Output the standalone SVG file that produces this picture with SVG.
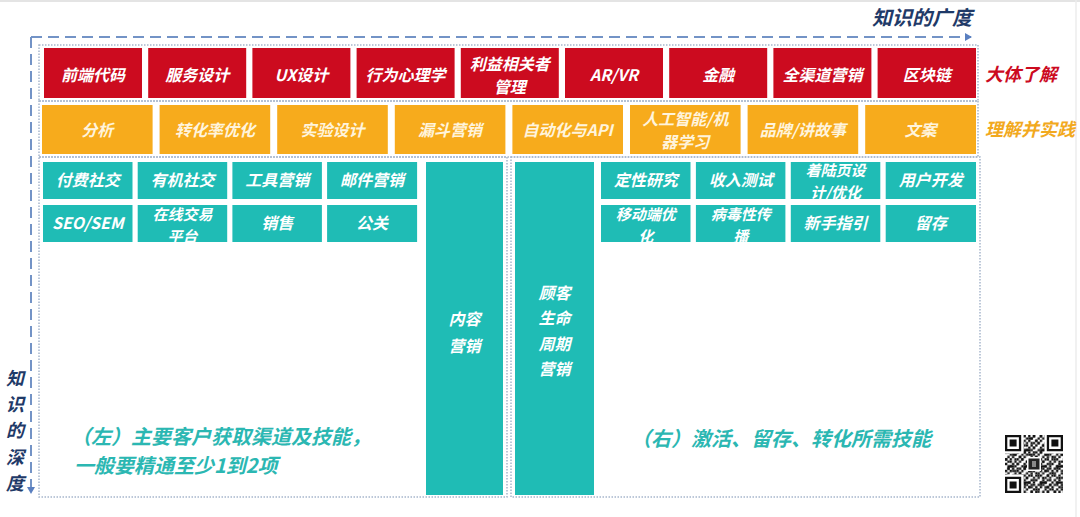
<svg xmlns="http://www.w3.org/2000/svg" width="1080" height="517" viewBox="0 0 1080 517">
<style>
.red{fill:#cc0b1f}
.org{fill:#f7ab1c}
.teal{fill:#1fbcb5}
.bt{font-family:"Noto Sans CJK SC","Noto Sans",sans-serif;font-weight:700;font-style:italic;font-size:16px;fill:#ffffff;text-anchor:middle}
.sm{font-size:15px}
.ot{fill:#fff4dc}
.frame{fill:none;stroke:#a7b6cc;stroke-width:1.5;stroke-dasharray:1.5 1.5}
.axis{fill:none;stroke:#7393c6;stroke-width:2;stroke-dasharray:11 6}
.lbl{font-family:"Noto Sans CJK SC","Noto Sans",sans-serif;font-weight:700;font-style:italic}
.note{font-family:"Noto Sans CJK SC","Noto Sans",sans-serif;font-weight:700;font-style:italic;font-size:20px;fill:#2bb7b2}
</style>
<defs>
<marker id="ah" markerWidth="8" markerHeight="8" refX="6" refY="4" orient="auto" markerUnits="userSpaceOnUse">
<path d="M0,0 L7,4 L0,8 z" fill="#5a7fc0"/>
</marker>
<pattern id="qa" width="11.6" height="11.6" patternUnits="userSpaceOnUse" x="1005" y="435">
<path fill="#111" d="M0 0h2.32v2.32h-2.32z M4.64 0h2.32v2.32h-2.32z M2.32 2.32h2.32v2.32h-2.32z M9.28 2.32h2.32v2.32h-2.32z M0 4.64h2.32v2.32h-2.32z M6.96 4.64h2.32v2.32h-2.32z M4.64 6.96h2.32v2.32h-2.32z M9.28 6.96h2.32v2.32h-2.32z M2.32 9.28h2.32v2.32h-2.32z M6.96 9.28h2.32v2.32h-2.32z"/>
</pattern>
<pattern id="qb" width="16.24" height="16.24" patternUnits="userSpaceOnUse" x="1005" y="435">
<path fill="#111" d="M2.32 0h2.32v2.32h-2.32z M11.6 0h2.32v2.32h-2.32z M6.96 2.32h4.64v2.32h-4.64z M13.92 4.64h2.32v2.32h-2.32z M0 6.96h2.32v2.32h-2.32z M9.28 6.96h2.32v2.32h-2.32z M4.64 9.28h2.32v2.32h-2.32z M11.6 11.6h2.32v2.32h-2.32z M2.32 13.92h4.64v2.32h-4.64z M6.96 13.92h2.32v2.32h-2.32z"/>
</pattern>
</defs>
<rect width="1080" height="517" fill="#ffffff"/>
<line x1="0" y1="1" x2="1080" y2="1" stroke="#e4e4e4" stroke-width="2"/>
<line x1="1076" y1="0" x2="1076" y2="517" stroke="#ececec" stroke-width="1.5"/>

<g id="frames">
<rect class="frame" x="39" y="45" width="939" height="56"/>
<rect class="frame" x="39" y="101" width="939" height="56"/>
<rect class="frame" x="39" y="157" width="468" height="340"/>
<rect class="frame" x="511" y="157" width="469" height="340"/>
</g>

<g id="connectors">
<line class="axis" x1="31" y1="37" x2="971" y2="37" marker-end="url(#ah)"/>
<line class="axis" x1="31" y1="37" x2="31" y2="493" marker-end="url(#ah)"/>
</g>

<g id="axis-labels">
<text class="lbl" x="972" y="25" font-size="20" fill="#1f3a68" text-anchor="end">知识的广度</text>
<text class="lbl" x="15" font-size="18" fill="#1f3a68" text-anchor="middle"><tspan x="15" y="385">知</tspan><tspan x="15" y="411.2">识</tspan><tspan x="15" y="437.4">的</tspan><tspan x="15" y="463.6">深</tspan><tspan x="15" y="489.8">度</tspan></text>
<text class="lbl" x="985" y="81" font-size="18" fill="#cc0b1f">大体了解</text>
<text class="lbl" x="985" y="136" font-size="18" fill="#f2a91e">理解并实践</text>
</g>

<g id="r1"><rect class="red" x="44" y="48" width="98" height="50"/><text class="bt" x="93" y="81">前端代码</text></g>
<g id="r2"><rect class="red" x="148.2" y="48" width="98" height="50"/><text class="bt" x="197.2" y="81">服务设计</text></g>
<g id="r3"><rect class="red" x="252.4" y="48" width="98" height="50"/><text class="bt" x="301.4" y="81">UX设计</text></g>
<g id="r4"><rect class="red" x="356.6" y="48" width="98" height="50"/><text class="bt" x="405.6" y="81">行为心理学</text></g>
<g id="r5"><rect class="red" x="460.8" y="48" width="98" height="50"/><text class="bt" x="509.8" y="69.5"><tspan x="509.8" y="69.5">利益相关者</tspan><tspan x="509.8" y="93">管理</tspan></text></g>
<g id="r6"><rect class="red" x="565" y="48" width="98" height="50"/><text class="bt" x="614" y="81">AR/VR</text></g>
<g id="r7"><rect class="red" x="669.2" y="48" width="98" height="50"/><text class="bt" x="718.2" y="81">金融</text></g>
<g id="r8"><rect class="red" x="773.4" y="48" width="98" height="50"/><text class="bt" x="822.4" y="81">全渠道营销</text></g>
<g id="r9"><rect class="red" x="877.6" y="48" width="98.4" height="50"/><text class="bt" x="926.8" y="81">区块链</text></g>

<g id="o1"><rect class="org" x="42" y="105" width="110.6" height="49"/><text class="bt ot" x="97.3" y="136">分析</text></g>
<g id="o2"><rect class="org" x="159.6" y="105" width="110.6" height="49"/><text class="bt ot" x="214.9" y="136">转化率优化</text></g>
<g id="o3"><rect class="org" x="277.2" y="105" width="110.6" height="49"/><text class="bt ot" x="332.5" y="136">实验设计</text></g>
<g id="o4"><rect class="org" x="394.8" y="105" width="110.6" height="49"/><text class="bt ot" x="450.1" y="136">漏斗营销</text></g>
<g id="o5"><rect class="org" x="512.4" y="105" width="110.6" height="49"/><text class="bt ot" x="567.7" y="136">自动化与API</text></g>
<g id="o6"><rect class="org" x="630" y="105" width="110.6" height="49"/><text class="bt ot" x="685.3" y="124.5"><tspan x="685.3" y="124.5">人工智能/机</tspan><tspan x="685.3" y="148">器学习</tspan></text></g>
<g id="o7"><rect class="org" x="747.6" y="105" width="110.6" height="49"/><text class="bt ot" x="802.9" y="136">品牌/讲故事</text></g>
<g id="o8"><rect class="org" x="865.2" y="105" width="110.8" height="49"/><text class="bt ot" x="920.6" y="136">文案</text></g>

<g id="l1"><rect class="teal" x="43" y="162" width="89.5" height="37"/><text class="bt" x="87.8" y="186">付费社交</text></g>
<g id="l2"><rect class="teal" x="137.7" y="162" width="89.5" height="37"/><text class="bt" x="182.5" y="186">有机社交</text></g>
<g id="l3"><rect class="teal" x="232.4" y="162" width="89.5" height="37"/><text class="bt" x="277.2" y="186">工具营销</text></g>
<g id="l4"><rect class="teal" x="327.1" y="162" width="90" height="37"/><text class="bt" x="372.1" y="186">邮件营销</text></g>
<g id="l5"><rect class="teal" x="43" y="205" width="89.5" height="37"/><text class="bt" x="87.8" y="229">SEO/SEM</text></g>
<g id="l6"><rect class="teal" x="137.7" y="205" width="89.5" height="37"/><text class="bt sm" x="182.5" y="219.5"><tspan x="182.5" y="219.5">在线交易</tspan><tspan x="182.5" y="241.5">平台</tspan></text></g>
<g id="l7"><rect class="teal" x="232.4" y="205" width="89.5" height="37"/><text class="bt" x="277.2" y="229">销售</text></g>
<g id="l8"><rect class="teal" x="327.1" y="205" width="90" height="37"/><text class="bt" x="372.1" y="229">公关</text></g>

<g id="content-marketing"><rect class="teal" x="426" y="162" width="77" height="333"/><text class="bt" x="464.5" y="325" font-size="18"><tspan x="464.5" y="325">内容</tspan><tspan x="464.5" y="351.5">营销</tspan></text></g>
<g id="lifecycle-marketing"><rect class="teal" x="515" y="162" width="79" height="333"/><text class="bt" x="554.5" y="298.5" font-size="17.5"><tspan x="554.5" y="298.5">顾客</tspan><tspan x="554.5" y="324">生命</tspan><tspan x="554.5" y="349.5">周期</tspan><tspan x="554.5" y="375">营销</tspan></text></g>

<g id="m1"><rect class="teal" x="601" y="162" width="89.5" height="37"/><text class="bt" x="645.8" y="186">定性研究</text></g>
<g id="m2"><rect class="teal" x="695.9" y="162" width="89.5" height="37"/><text class="bt" x="740.7" y="186">收入测试</text></g>
<g id="m3"><rect class="teal" x="790.8" y="162" width="89.5" height="37"/><text class="bt sm" x="835.6" y="176"><tspan x="835.6" y="176">着陆页设</tspan><tspan x="835.6" y="198">计/优化</tspan></text></g>
<g id="m4"><rect class="teal" x="885.7" y="162" width="90.3" height="37"/><text class="bt" x="930.8" y="186">用户开发</text></g>
<g id="m5"><rect class="teal" x="601" y="205" width="89.5" height="37"/><text class="bt sm" x="645.8" y="219.5"><tspan x="645.8" y="219.5">移动端优</tspan><tspan x="645.8" y="241.5">化</tspan></text></g>
<g id="m6"><rect class="teal" x="695.9" y="205" width="89.5" height="37"/><text class="bt sm" x="740.7" y="219.5"><tspan x="740.7" y="219.5">病毒性传</tspan><tspan x="740.7" y="241.5">播</tspan></text></g>
<g id="m7"><rect class="teal" x="790.8" y="205" width="89.5" height="37"/><text class="bt" x="835.6" y="229">新手指引</text></g>
<g id="m8"><rect class="teal" x="885.7" y="205" width="90.3" height="37"/><text class="bt" x="930.8" y="229">留存</text></g>

<g id="notes">
<text class="note" x="71" y="443.5"><tspan x="71" y="443.5">（左）主要客户获取渠道及技能，</tspan><tspan x="74" y="472.6">一般要精通至少1到2项</tspan></text>
<text class="note" x="631" y="446">（右）激活、留存、转化所需技能</text>
</g>

<g id="qr">
<rect x="1003" y="433" width="62" height="62" fill="#fff"/>
<rect x="1005" y="435" width="58" height="58" fill="url(#qa)"/>
<rect x="1005" y="435" width="58" height="58" fill="url(#qb)"/>
<rect x="1005" y="435" width="18.5" height="18.5" fill="#fff"/>
<rect x="1044.5" y="435" width="18.5" height="18.5" fill="#fff"/>
<rect x="1005" y="474.5" width="18.5" height="18.5" fill="#fff"/>
<g fill="#111">
<path d="M1005 435h16.2v16.2h-16.2z M1007.3 437.3v11.6h11.6v-11.6z M1009.6 439.6h7v7h-7z" fill-rule="evenodd"/>
<path d="M1046.8 435h16.2v16.2h-16.2z M1049.1 437.3v11.6h11.6v-11.6z M1051.4 439.6h7v7h-7z" fill-rule="evenodd"/>
<path d="M1005 476.8h16.2v16.2h-16.2z M1007.3 479.1v11.6h11.6v-11.6z M1009.6 481.4h7v7h-7z" fill-rule="evenodd"/>
</g>
<rect x="1027" y="457" width="14" height="14" fill="#fff"/>
<rect x="1028.5" y="458.5" width="11" height="11" fill="#222"/>
<rect x="1032" y="461" width="4" height="6" fill="#888"/>
</g>
</svg>
